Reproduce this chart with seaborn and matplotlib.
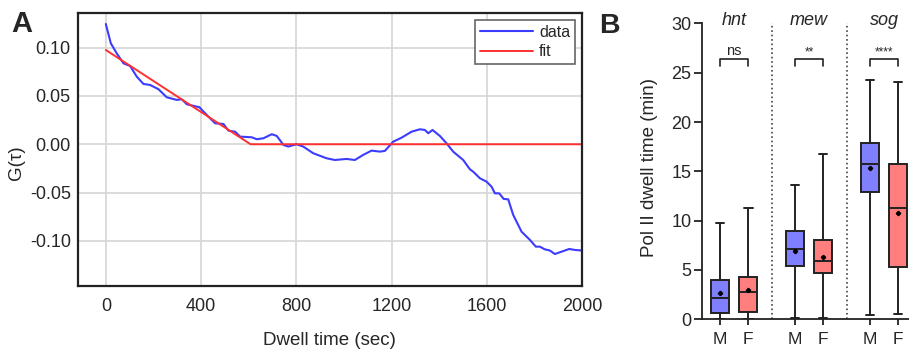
import numpy as np
import pandas as pd
import seaborn as sns
import matplotlib.pyplot as plt

# panel A: autocorrelation of dwell time
dwell_x = [0, 21, 46, 74, 102, 130, 158, 186, 221, 256, 298, 319, 340, 393, 424,
           459, 494, 515, 543, 564, 613, 634, 662, 697, 718, 746, 766, 801, 829,
           871, 927, 962, 1011, 1046, 1081, 1116, 1151, 1172, 1207, 1242, 1284,
           1319, 1340, 1354, 1372, 1403, 1431, 1459, 1501, 1529, 1543, 1571,
           1599, 1620, 1634, 1652, 1671, 1690, 1711, 1746, 1781, 1806, 1823,
           1843, 1865, 1886, 1914, 1946, 1970, 2000]
g_tau = [0.1245, 0.1045, 0.094, 0.0838, 0.081, 0.070, 0.0624, 0.0614, 0.057,
         0.0486, 0.0459, 0.0466, 0.0414, 0.0383, 0.0303, 0.0217, 0.021, 0.0141,
         0.013, 0.0079, 0.0072, 0.0052, 0.0062, 0.0104, 0.0086, -0.0007,
         -0.0024, 0.0, -0.0024, -0.0093, -0.0145, -0.0163, -0.0152, -0.0163,
         -0.011, -0.0066, -0.0076, -0.0069, 0.0027, 0.0068, 0.013, 0.0155,
         0.0148, 0.0114, 0.0148, 0.0086, 0.001, -0.0077, -0.0163, -0.0259,
         -0.0284, -0.0352, -0.0387, -0.0439, -0.0508, -0.0508, -0.0566,
         -0.057, -0.0732, -0.0905, -0.099, -0.106, -0.106, -0.1087, -0.110,
         -0.1136, -0.1112, -0.1084, -0.1094, -0.110]
fit_x = [0, 608, 2000]
fit_y = [0.0976, 0.0, 0.0]

# panel B: box stats per gene and sex
genes = ['hnt', 'mew', 'sog']
sexes = ['M', 'F']
q1 = [0.6, 0.71, 5.43, 4.73, 12.9, 5.33]
med = [2.19, 2.77, 7.12, 5.95, 15.74, 11.28]
q3 = [3.95, 4.32, 8.95, 8.0, 17.84, 15.7]
whis_lo = [0.05, 0.05, 0.1, 0.1, 0.47, 0.5]
whis_hi = [9.79, 11.25, 13.6, 16.8, 24.3, 24.05]
means = [2.63, 2.97, 6.95, 6.32, 15.3, 10.8]
signif = ['ns', '**', '****']

sns.set_style('white')
plt.rcParams['font.family'] = ['Liberation Sans', 'DejaVu Sans']

fig = plt.figure(figsize=(9.09, 3.56), dpi=100)
axA = fig.add_axes([0.0855, 0.1975, 0.5548, 0.7669])
axB = fig.add_axes([0.772, 0.1031, 0.23, 0.8309])

df = pd.DataFrame({'x': dwell_x, 'y': g_tau})
sns.lineplot(data=df, x='x', y='y', ax=axA, color='#3c3cff', lw=1.5, label='data')
sns.lineplot(x=fit_x, y=fit_y, ax=axA, color='#ff3030', lw=1.4, label='fit')
axA.set_xlim(-118, 2000)
axA.set_ylim(-0.1464, 0.1362)
axA.set_xticks([0, 400, 800, 1200, 1600, 2000])
axA.set_yticks([-0.10, -0.05, 0.0, 0.05, 0.10])
axA.set_yticklabels(['-0.10', '-0.05', '0.00', '0.05', '0.10'])
axA.grid(True, color='#d6d6d6', lw=1.2)
axA.set_axisbelow(True)
for s in axA.spines.values():
    s.set_linewidth(1.6)
    s.set_color('#222222')
axA.tick_params(labelsize=13, length=3, width=1, color='#444444', pad=2)
axA.tick_params(axis='x', pad=6)
axA.set_xlabel('Dwell time (sec)', fontsize=13.5, labelpad=12)
axA.set_ylabel('G(τ)', fontsize=13.5)
axA.yaxis.set_label_coords(-0.1045, 0.449)
leg = axA.legend(loc='upper right', fontsize=11.5, handlelength=3.3,
                 fancybox=False, framealpha=1, borderaxespad=0.45,
                 borderpad=0.3, labelspacing=0.3, handletextpad=0.4)
leg.get_frame().set_edgecolor('#666666')
leg.get_frame().set_linewidth(1.2)

# panel B
pos = [0, 1, 2.65, 3.65, 5.3, 6.3]
stats = []
for i in range(6):
    stats.append(dict(med=med[i], q1=q1[i], q3=q3[i], whislo=whis_lo[i],
                      whishi=whis_hi[i], mean=means[i], fliers=[]))
bp = axB.bxp(stats, positions=pos, widths=0.63, capwidths=0.3,
             showmeans=True, patch_artist=True,
             boxprops=dict(lw=1.4, edgecolor='#222222'),
             whiskerprops=dict(lw=1.4, color='#222222'),
             capprops=dict(lw=1.4, color='#222222'),
             medianprops=dict(lw=1.4, color='#222222'),
             meanprops=dict(marker='P', markersize=2.8, markerfacecolor='black',
                            markeredgecolor='black'))
for i, b in enumerate(bp['boxes']):
    b.set_facecolor('#8080ff' if i % 2 == 0 else '#ff7f7f')
axB.set_xlim(-0.65, 6.75)
axB.set_ylim(0, 30)
axB.set_yticks(range(0, 31, 5))
axB.set_xticks(pos)
axB.set_xticklabels(sexes * 3)
sns.despine(ax=axB)
for s in ['left', 'bottom']:
    axB.spines[s].set_linewidth(1.3)
    axB.spines[s].set_color('#222222')
axB.tick_params(axis='y', labelsize=13, length=5.5, width=1.3, pad=2, direction='out',
                color='#222222', left=True)
axB.tick_params(axis='x', labelsize=12.5, length=4.5, width=1.3, pad=5, direction='out',
                color='#222222', bottom=True)
axB.set_ylabel('Pol II dwell time (min)', fontsize=13.5)
axB.yaxis.set_label_coords(-0.209, 0.513)

for sep in [(pos[1] + pos[2]) / 2, (pos[3] + pos[4]) / 2]:
    axB.plot([sep, sep], [0, 30.1], ls=':', color='#444444', lw=1.2, clip_on=False)

for g in range(3):
    xm, xf = pos[2 * g], pos[2 * g + 1]
    axB.text((xm + xf) / 2, 30.3, genes[g], ha='center', va='center',
             fontsize=13, style='italic', clip_on=False)
    axB.plot([xm, xm, xf, xf], [25.7, 26.37, 26.37, 25.7], color='#222222', lw=1.2)
    fs = 10.5 if signif[g] == 'ns' else 8.5
    axB.text((xm + xf) / 2, 26.5, signif[g], ha='center', va='bottom', fontsize=fs)

fig.text(11 / 909, 1 - 31.7 / 356, 'A', fontsize=21, fontweight='bold', va='baseline')
fig.text(599 / 909, 1 - 33.3 / 356, 'B', fontsize=20.5, fontweight='bold', va='baseline')

fig.savefig('out.png', dpi=100)
